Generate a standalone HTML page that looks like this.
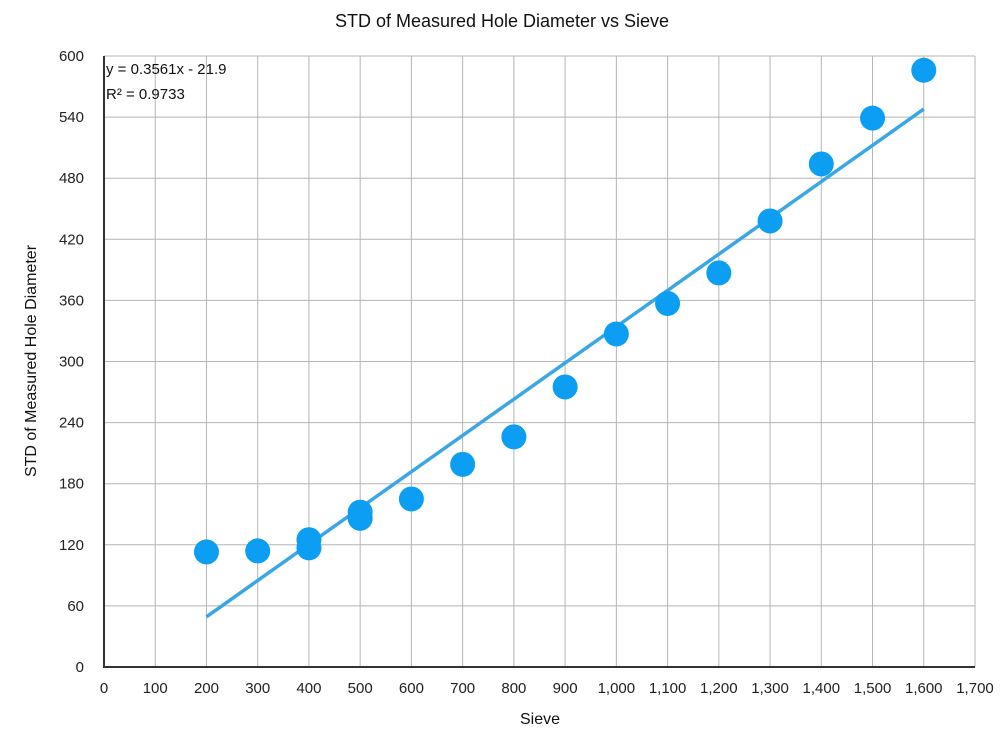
<!DOCTYPE html>
<html><head><meta charset="utf-8"><style>
body{margin:0;background:#fff;}
svg{display:block;font-family:"Liberation Sans",Arial,sans-serif;}
</style></head><body>
<svg id="chart" width="1004" height="742" viewBox="0 0 1004 742"></svg>
<script>
const xTicks=[0,100,200,300,400,500,600,700,800,900,1000,1100,1200,1300,1400,1500,1600,1700];
const yTicks=[0,60,120,180,240,300,360,420,480,540,600];
const sieve=[200,300,400,400,500,500,600,700,800,900,1000,1100,1200,1300,1400,1500,1600];
const stdDiam=[113,114,125,117,152,146,165,199,226,275,327,357,387,438,494,539,586];
const slope=0.3561, intercept=-21.9;
const NS='http://www.w3.org/2000/svg';
const svg=document.getElementById('chart');
const L=104,R=975,T=56,B=667;
const xs=v=>L+(v-0)/1700*(R-L);
const ys=v=>B-(v-0)/600*(B-T);
function mk(tag,attrs,parent){const e=document.createElementNS(NS,tag);for(const k in attrs)e.setAttribute(k,attrs[k]);(parent||svg).appendChild(e);return e;}
const grid=mk('g',{});


xTicks.forEach(t=>{if(t===0)return;mk('line',{x1:xs(t),x2:xs(t),y1:T,y2:B,stroke:'#b5b5b5','stroke-width':1},grid);});
yTicks.forEach(t=>{if(t===0)return;mk('line',{x1:L,x2:R,y1:ys(t),y2:ys(t),stroke:'#b5b5b5','stroke-width':1},grid);});
const ax=mk('g',{});


mk('line',{x1:L,x2:L,y1:T,y2:B+1,stroke:'#333','stroke-width':2},ax);
mk('line',{x1:L-1,x2:R,y1:B,y2:B,stroke:'#333','stroke-width':2},ax);
xTicks.forEach(t=>{const e=mk('text',{x:xs(t),y:693,'text-anchor':'middle','font-size':15,fill:'#222'});e.textContent=t.toLocaleString('en-US');

});
yTicks.forEach(t=>{const e=mk('text',{x:84,y:ys(t)+5,'text-anchor':'end','font-size':15,fill:'#222'});e.textContent=t;

});
const x0=Math.min(...sieve),x1=Math.max(...sieve);
const tl=mk('line',{x1:xs(x0),y1:ys(slope*x0+intercept),x2:xs(x1),y2:ys(slope*x1+intercept),stroke:'#3aa6e6','stroke-width':3.5});


sieve.forEach((s,i)=>{const c=mk('circle',{cx:xs(s),cy:ys(stdDiam[i]),r:12.5,fill:'#0b9ef2'});

});
function txt(x,y,s,size,name,extra){const e=mk('text',Object.assign({x:x,y:y,'font-size':size,fill:'#111'},extra||{}));e.textContent=s;

return e;}
txt(106,74,'y = 0.3561x - 21.9',15,'trend-equation');
txt(106,99,'R² = 0.9733',15,'r-squared');
txt(502,27,'STD of Measured Hole Diameter vs Sieve',18,'chart-title',{'text-anchor':'middle'});
txt(540,724,'Sieve',16,'x-axis-title',{'text-anchor':'middle'});
txt(0,0,'STD of Measured Hole Diameter',16,'y-axis-title',{'text-anchor':'middle',transform:'translate(36,361) rotate(-90)'});
</script>
</body></html>
